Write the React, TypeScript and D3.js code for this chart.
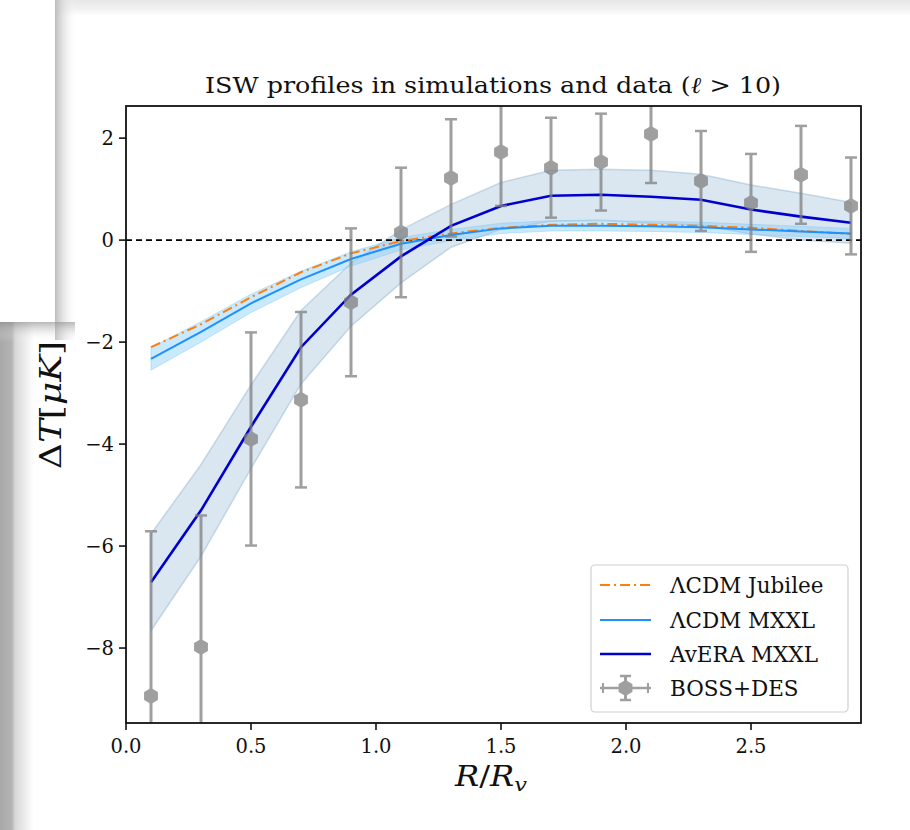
import React from "react";
import * as d3 from "d3";

const radii = [0.1, 0.3, 0.5, 0.7, 0.9, 1.1, 1.3, 1.5, 1.7, 1.9, 2.1, 2.3, 2.5, 2.7, 2.9];
const jubilee = [-2.1, -1.65, -1.12, -0.63, -0.26, -0.02, 0.13, 0.24, 0.3, 0.32, 0.3, 0.28, 0.24, 0.18, 0.12];
const mxxl = [-2.33, -1.8, -1.24, -0.77, -0.37, -0.07, 0.1, 0.23, 0.28, 0.28, 0.27, 0.25, 0.21, 0.17, 0.13];
const mxxlErr = [0.22, 0.2, 0.18, 0.16, 0.14, 0.12, 0.11, 0.1, 0.1, 0.1, 0.1, 0.1, 0.1, 0.1, 0.1];
const avera = [-6.71, -5.3, -3.66, -2.1, -1.07, -0.32, 0.28, 0.67, 0.87, 0.89, 0.85, 0.79, 0.6, 0.46, 0.34];
const averaErr = [0.95, 0.9, 0.82, 0.72, 0.62, 0.52, 0.42, 0.46, 0.5, 0.5, 0.52, 0.5, 0.48, 0.46, 0.4];
const dataVals = [-8.94, -7.98, -3.9, -3.13, -1.22, 0.15, 1.22, 1.73, 1.42, 1.53, 2.08, 1.16, 0.73, 1.28, 0.67];
const dataErr = [3.23, 2.58, 2.09, 1.72, 1.45, 1.27, 1.15, 1.06, 0.98, 0.95, 0.96, 0.98, 0.96, 0.96, 0.95];
const xTicks = [0, 0.5, 1.0, 1.5, 2.0, 2.5];
const yTicks = [2, 0, -2, -4, -6, -8];
const legendLabels = ["ΛCDM Jubilee", "ΛCDM MXXL", "AvERA MXXL", "BOSS+DES"];

const W = 910, H = 830;
const L = 126, R = 861, T = 106, B = 723;
const FONT = "'DejaVu Serif', 'Liberation Serif', serif";

function hexPath(cx: number, cy: number, r: number) {
  const pts: string[] = [];
  for (let i = 0; i < 6; i++) {
    const a = Math.PI / 2 + (i * Math.PI) / 3;
    pts.push(`${cx + r * Math.cos(a)},${cy - r * Math.sin(a)}`);
  }
  return "M" + pts.join("L") + "Z";
}

export default function App() {
  const x = d3.scaleLinear().domain([0, 2.94]).range([L, R]);
  const y = d3.scaleLinear().domain([-9.47, 2.63]).range([B, T]);
  const idx = radii.map((_, i) => i);

  const line = (vals: number[]) =>
    d3.line<number>().x((i) => x(radii[i])).y((i) => y(vals[i]))(idx) || "";
  const band = (vals: number[], err: number[]) =>
    d3
      .area<number>()
      .x((i) => x(radii[i]))
      .y0((i) => y(vals[i] - err[i]))
      .y1((i) => y(vals[i] + err[i]))(idx) || "";

  const errColor = "#808080";
  const legRows = [585, 620, 654, 688];

  return (
    <svg width={W} height={H} style={{ position: "absolute", left: 0, top: 0, background: "#fff" }}>
      <defs>
        <linearGradient id="topband" x1="0" y1="0" x2="0" y2="1">
          <stop offset="0" stopColor="#e6e6e6" />
          <stop offset="0.6" stopColor="#f2f2f2" />
          <stop offset="1" stopColor="#ffffff" />
        </linearGradient>
        <linearGradient id="leftstrip" x1="0" y1="0" x2="1" y2="0">
          <stop offset="0" stopColor="#a8a8a8" />
          <stop offset="0.35" stopColor="#b4b4b4" />
          <stop offset="0.45" stopColor="#d8d8d8" />
          <stop offset="1" stopColor="#ffffff" />
        </linearGradient>
        <linearGradient id="boxShadowR" x1="0" y1="0" x2="1" y2="0">
          <stop offset="0" stopColor="#bdbdbd" />
          <stop offset="1" stopColor="#ffffff" stopOpacity="0" />
        </linearGradient>
        <linearGradient id="boxShadowB" x1="0" y1="0" x2="0" y2="1">
          <stop offset="0" stopColor="#8a8a8a" />
          <stop offset="1" stopColor="#ffffff" stopOpacity="0" />
        </linearGradient>
        <clipPath id="plotclip">
          <rect x={L} y={T} width={R - L} height={B - T} />
        </clipPath>
      </defs>

      {/* screenshot frame artifacts */}
      <rect x={0} y={0} width={W} height={16} fill="url(#topband)" />
      <rect x={0} y={322} width={34} height={H - 322} fill="url(#leftstrip)" />
      <rect x={55} y={0} width={22} height={340} fill="url(#boxShadowR)" />
      <rect x={0} y={322} width={75} height={20} fill="url(#boxShadowB)" opacity={0.6} />
      <rect x={0} y={0} width={55} height={322} fill="#ffffff" />

      {/* title */}
      <text x={(L + R) / 2 - 0.5} y={93} textAnchor="middle" fontFamily={FONT} fontSize={23} fill="#111" textLength={576} lengthAdjust="spacingAndGlyphs">
        ISW profiles in simulations and data (<tspan fontStyle="italic">ℓ</tspan> &gt; 10)
      </text>

      <g clipPath="url(#plotclip)">
        <path d={band(avera, averaErr)} fill="steelblue" fillOpacity={0.2} stroke="steelblue" strokeOpacity={0.25} strokeWidth={1.5} />
        <path d={band(mxxl, mxxlErr)} fill="lightskyblue" fillOpacity={0.45} stroke="lightskyblue" strokeOpacity={0.5} strokeWidth={1} />
        <line x1={L} x2={R} y1={y(0)} y2={y(0)} stroke="#000" strokeWidth={1.8} strokeDasharray="6,4" />
        <path d={line(jubilee)} fill="none" stroke="#ff7f0e" strokeWidth={2} strokeDasharray="10,4,2,4" />
        <path d={line(mxxl)} fill="none" stroke="#1e90ff" strokeWidth={2} />
        <path d={line(avera)} fill="none" stroke="#0000cd" strokeWidth={2.6} />
        <g opacity={0.75}>
          {idx.map((i) => {
            const cx = x(radii[i]);
            const y1 = y(dataVals[i] + dataErr[i]);
            const y2 = y(dataVals[i] - dataErr[i]);
            return (
              <g key={i}>
                <line x1={cx} x2={cx} y1={y1} y2={y2} stroke={errColor} strokeWidth={3} />
                <line x1={cx - 6} x2={cx + 6} y1={y1} y2={y1} stroke={errColor} strokeWidth={2.5} />
                <line x1={cx - 6} x2={cx + 6} y1={y2} y2={y2} stroke={errColor} strokeWidth={2.5} />
                <path d={hexPath(cx, y(dataVals[i]), 8)} fill={errColor} />
              </g>
            );
          })}
        </g>
      </g>

      {/* axes frame */}
      <rect x={L} y={T} width={R - L} height={B - T} fill="none" stroke="#111" strokeWidth={1.8} />

      {xTicks.map((t) => (
        <g key={"x" + t}>
          <line x1={x(t)} x2={x(t)} y1={B} y2={B + 7} stroke="#111" strokeWidth={1.6} />
          <text x={x(t)} y={B + 30} textAnchor="middle" fontFamily={FONT} fontSize={19.5} fill="#111">
            {d3.format(".1f")(t)}
          </text>
        </g>
      ))}
      {yTicks.map((t) => (
        <g key={"y" + t}>
          <line x1={L - 7} x2={L} y1={y(t)} y2={y(t)} stroke="#111" strokeWidth={1.6} />
          <text x={L - 12} y={y(t) + 7} textAnchor="end" fontFamily={FONT} fontSize={19.5} fill="#111">
            {t < 0 ? "−" + Math.abs(t) : String(t)}
          </text>
        </g>
      ))}

      {/* axis labels */}
      <text x={491} y={786} textAnchor="middle" fontFamily={FONT} fontSize={27} fill="#111" textLength={72} lengthAdjust="spacingAndGlyphs">
        <tspan fontStyle="italic">R</tspan>/<tspan fontStyle="italic">R</tspan>
        <tspan fontStyle="italic" fontSize={19} dy={5}>v</tspan>
      </text>
      <text transform={`translate(61,405) rotate(-90)`} textAnchor="middle" fontFamily={FONT} fontSize={30} fill="#111" textLength={128} lengthAdjust="spacingAndGlyphs">
        Δ<tspan fontStyle="italic">T</tspan>[<tspan fontStyle="italic">μK</tspan>]
      </text>

      {/* legend */}
      <rect x={591} y={565} width={257} height={147} rx={4} fill="#fff" fillOpacity={0.85} stroke="#d0d0d0" strokeWidth={1.2} />
      <line x1={600} x2={651} y1={legRows[0]} y2={legRows[0]} stroke="#ff7f0e" strokeWidth={2} strokeDasharray="10,4,2,4" />
      <line x1={600} x2={651} y1={legRows[1]} y2={legRows[1]} stroke="#1e90ff" strokeWidth={2} />
      <line x1={600} x2={651} y1={legRows[2]} y2={legRows[2]} stroke="#0000cd" strokeWidth={2.6} />
      <g opacity={0.75}>
        <line x1={600} x2={651} y1={legRows[3]} y2={legRows[3]} stroke={errColor} strokeWidth={2.5} />
        <line x1={603} x2={603} y1={legRows[3] - 5} y2={legRows[3] + 5} stroke={errColor} strokeWidth={2} />
        <line x1={648} x2={648} y1={legRows[3] - 5} y2={legRows[3] + 5} stroke={errColor} strokeWidth={2} />
        <line x1={625.5} x2={625.5} y1={legRows[3] - 12} y2={legRows[3] + 12} stroke={errColor} strokeWidth={3} />
        <line x1={620} x2={631} y1={legRows[3] - 12} y2={legRows[3] - 12} stroke={errColor} strokeWidth={2.5} />
        <line x1={620} x2={631} y1={legRows[3] + 12} y2={legRows[3] + 12} stroke={errColor} strokeWidth={2.5} />
        <path d={hexPath(625.5, legRows[3], 8)} fill={errColor} />
      </g>
      {legendLabels.map((lab, i) => (
        <text key={lab} x={670} y={legRows[i] + 7.5} fontFamily={FONT} fontSize={21.5} fill="#111">
          {lab}
        </text>
      ))}
    </svg>
  );
}
